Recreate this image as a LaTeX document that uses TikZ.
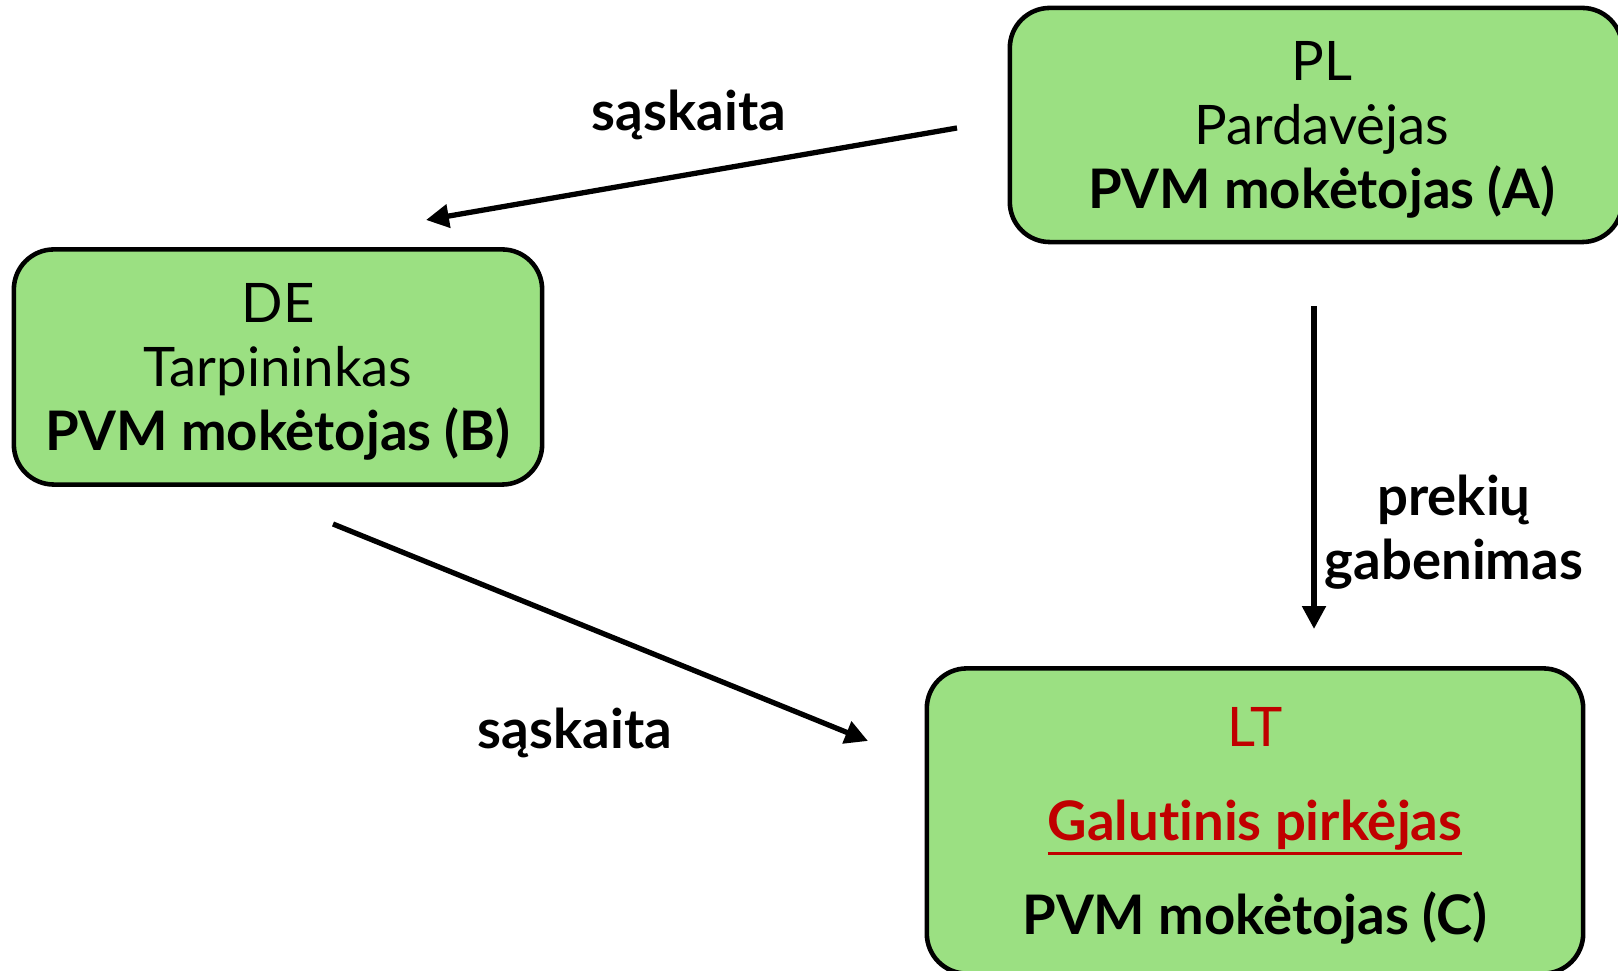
\documentclass[tikz,border=0pt]{standalone}
\usepackage{fontspec}
\setmainfont{Lato}[Ligatures=NoCommon]
\usetikzlibrary{arrows.meta}
\definecolor{boxgreen}{RGB}{155,224,130}
\definecolor{darkred}{RGB}{192,0,0}
\newcommand{\thickul}[1]{\setbox0\hbox{#1}\rlap{\raisebox{-4.2pt}{\rule{\wd0}{0.9pt}}}\box0}
\tikzset{
	box/.style={draw, line width=1.3pt, fill=boxgreen, rounded corners=0.4cm},
	txt/.style={align=center, font=\fontsize{15.5}{18.2}\selectfont},
	flow/.style={line width=1.5pt, -{Triangle[length=6.5pt,width=6.5pt]}},
	lbl/.style={font=\fontsize{15.5}{18.2}\selectfont\bfseries, align=center}
}
\begin{document}
\begin{tikzpicture}[x=0.01cm,y=-0.01cm]
		\useasboundingbox (0,0) rectangle (1618,971);
		% the three parties
		\node[box, minimum width=6.12cm, minimum height=2.34cm] (pl) at (1316,125) {};
		\node[box, minimum width=5.28cm, minimum height=2.35cm] (de) at (278,367) {};
		\node[box, minimum width=6.56cm, minimum height=3.05cm] (lt) at (1255,821) {};
		\node[txt] (pltxt) at (1322,130) {PL\\Pardavėjas\\\textbf{PVM mokėtojas (A)}};
		\node[txt] (detxt) at (278,372) {DE\\Tarpininkas\\\textbf{PVM mokėtojas (B)}};
		\node[txt] (lttxt) at (1255,826)
			{\textcolor{darkred}{LT}\\[8.5pt]\textcolor{darkred}{\bfseries\thickul{Galutinis pirkėjas}}\\[8.5pt]\textbf{PVM mokėtojas (C)}};
		% arrow ends
		\coordinate (plout) at (957,128);
		\coordinate (dein) at (426,220);
		\coordinate (deout) at (333,524);
		\coordinate (ltin) at (868,741);
		\coordinate (goodsout) at (1314,306);
		\coordinate (goodsin) at (1314,629);
		\draw[flow] (plout) -- (dein);
		\draw[flow] (deout) -- (ltin);
		\draw[flow] (goodsout) -- (goodsin);
		\node[lbl] (inv1) at (689,115) {sąskaita};
		\node[lbl] (inv2) at (575,733) {sąskaita};
		\node[lbl] (goods) at (1454,532) {prekių\\gabenimas};
	\end{tikzpicture}
\end{document}
